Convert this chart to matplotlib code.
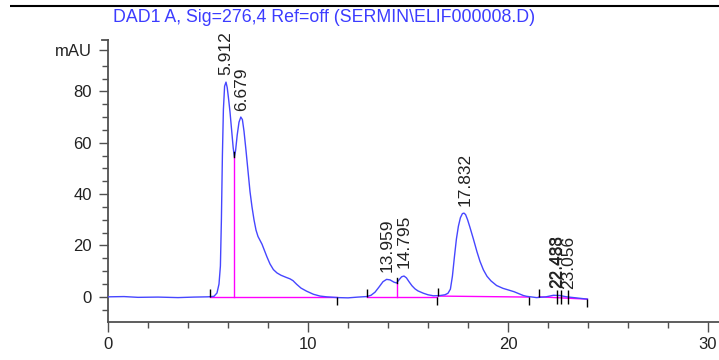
import numpy as np
import matplotlib.pyplot as plt
from matplotlib.ticker import MultipleLocator, FixedLocator

plt.rcParams['font.family'] = ['Liberation Sans', 'DejaVu Sans']

# chromatogram trace (time in min, signal in mAU)
t_min = [0.0, 0.8, 1.5, 2.5, 3.5, 4.3, 5.00, 5.30, 5.45, 5.55, 5.62, 5.67,
         5.72, 5.77, 5.83, 5.90, 5.96, 6.03, 6.10, 6.18, 6.26, 6.32, 6.38,
         6.46, 6.55, 6.64, 6.72, 6.80, 6.90, 7.00, 7.10, 7.20, 7.30, 7.40,
         7.50, 7.60, 7.70, 7.80, 7.95, 8.10, 8.27, 8.45, 8.65, 8.90, 9.10,
         9.25, 9.43, 9.65, 9.93, 10.27, 10.60, 10.93, 11.50, 12.00, 12.50,
         12.93, 13.15, 13.35, 13.55, 13.75, 13.93, 14.10, 14.30, 14.43, 14.55,
         14.68, 14.80, 14.92, 15.05, 15.20, 15.35, 15.50, 15.77, 16.00, 16.27,
         16.60, 16.85, 17.00, 17.12, 17.22, 17.32, 17.42, 17.52, 17.62, 17.72,
         17.80, 17.88, 17.98, 18.10, 18.27, 18.45, 18.60, 18.77, 18.95, 19.15,
         19.43, 19.75, 20.05, 20.30, 20.55, 20.77, 20.93, 21.43, 21.90, 22.27,
         22.60, 22.93, 23.40, 23.97]
signal = [0.0, 0.1, -0.2, -0.1, -0.3, -0.1, 0.0, 0.2, 1.5, 5.0, 12.0, 30.0,
          55.0, 73.0, 82.0, 83.6, 81.5, 77.0, 72.0, 65.0, 58.0, 54.5, 57.0,
          63.0, 68.0, 70.0, 69.0, 64.5, 57.0, 49.0, 41.0, 35.0, 30.0, 26.0,
          23.5, 22.0, 20.5, 18.5, 15.5, 12.8, 10.6, 9.3, 8.4, 7.6, 7.0,
          6.3, 4.9, 3.4, 2.2, 1.0, 0.3, 0.0, -0.3, -0.4, -0.1,
          0.1, 0.6, 1.8, 3.8, 5.9, 6.8, 6.6, 5.7, 5.4, 6.6,
          7.8, 8.1, 7.4, 5.9, 4.3, 3.1, 2.3, 1.4, 0.8, 0.4,
          0.5, 0.8, 1.4, 3.0, 8.0, 15.5, 22.5, 27.5, 30.8, 32.4,
          32.6, 32.0, 30.0, 27.0, 22.5, 17.5, 13.8, 10.5, 8.0, 6.2,
          4.4, 3.3, 2.6, 2.0, 1.2, 0.5, 0.2, -0.3, 0.0, 0.6,
          0.5, 0.0, -0.4, -0.9]

# peak retention times / labels
peak_rt = [5.912, 6.679, 13.959, 14.795, 17.832, 22.438, 22.483, 23.056]
peak_lbl = ['5.912', '6.679', '13.959', '14.795', '17.832', '22.438', '22.483', '23.056']

# integration baselines
bl_t0 = [5.10, 12.93, 16.50, 21.55]
bl_t1 = [11.43, 16.43, 21.07, 23.97]
bl_s0 = [0.0, 0.0, 0.3, 0.0]
bl_s1 = [0.0, 0.0, -0.1, -0.9]
# drop lines at valleys
drop_t = [6.32, 14.43]
drop_s = [54.5, 5.4]
# cluster split marks
split_t = [22.45, 22.65, 23.00]

blue = '#4646ff'
magenta = '#ff00ff'
axcol = '#505050'
txtcol = '#222222'

fig = plt.figure(figsize=(7.19, 3.6), dpi=100)

# full-figure pixel axes for the header rule
bg = fig.add_axes([0, 0, 1, 1])
bg.set_xlim(0, 719)
bg.set_ylim(360, 0)
bg.axis('off')
bg.plot([10, 719], [6, 6], color='k', lw=1.5, solid_capstyle='butt')

ax = fig.add_axes([108/719, 38/360, 611/719, 282/360])
ax.patch.set_alpha(0)

ax.plot(t_min, signal, color=blue, lw=1.0, zorder=3)

for a, b, s0, s1 in zip(bl_t0, bl_t1, bl_s0, bl_s1):
    ax.plot([a, b], [s0, s1], color=magenta, lw=1.0, zorder=2)
for t, s in zip(drop_t, drop_s):
    ax.plot([t, t], [0, s], color=magenta, lw=1.0, zorder=2)
    ax.plot([t, t], [s, s + 2], color='k', lw=1.0, zorder=4)

# start / end marks
ax.vlines(bl_t0, np.array(bl_s0), np.array(bl_s0) + 3.2, color='k', lw=1.0, zorder=4)
ax.vlines(bl_t1, np.array(bl_s1), np.array(bl_s1) - 3.2, color='k', lw=1.0, zorder=4)
ax.vlines(split_t, -2.8, 2.6, color='k', lw=1.0, zorder=4)

for rt, lbl in zip(peak_rt, peak_lbl):
    y = np.interp(rt, t_min, signal) + 3
    ax.text(rt, y, lbl, rotation=90, ha='center', va='bottom',
            fontsize=12.5, color=txtcol, zorder=5)

ax.set_xlim(0, 30.55)
ax.set_ylim(-9.8, 100)

ax.spines['top'].set_visible(False)
ax.spines['right'].set_visible(False)
for sp in ['left', 'bottom']:
    ax.spines[sp].set_color(axcol)
    ax.spines[sp].set_linewidth(1.3)

ax.xaxis.set_major_locator(MultipleLocator(10))
ax.xaxis.set_minor_locator(MultipleLocator(2))
ax.yaxis.set_major_locator(FixedLocator([0, 20, 40, 60, 80, 96]))
ax.yaxis.set_minor_locator(FixedLocator([-5, 5, 10, 15, 25, 30, 35, 45, 50, 55,
                                         65, 70, 75, 85, 90]))
ax.set_yticklabels(['0', '20', '40', '60', '80', 'mAU'])
ax.tick_params(which='major', direction='out', length=7, width=1.0,
               color=axcol, labelsize=12, labelcolor=txtcol, pad=4)
ax.tick_params(which='minor', direction='out', length=4.2, width=1.0, color=axcol)
ax.tick_params(axis='y', which='major', length=6.5)
ax.tick_params(axis='y', pad=5)

# small cap at the top of the y axis
ax.plot([-0.3, 0], [100, 100], color=axcol, lw=1.3, clip_on=False)

fig.text(113/719, 1 - 18/360, r'DAD1 A, Sig=276,4 Ref=off (SERMIN\ELIF000008.D)',
         color='#3c3cff', fontsize=12.8, ha='left', va='center')

fig.savefig('out.png', dpi=100)
